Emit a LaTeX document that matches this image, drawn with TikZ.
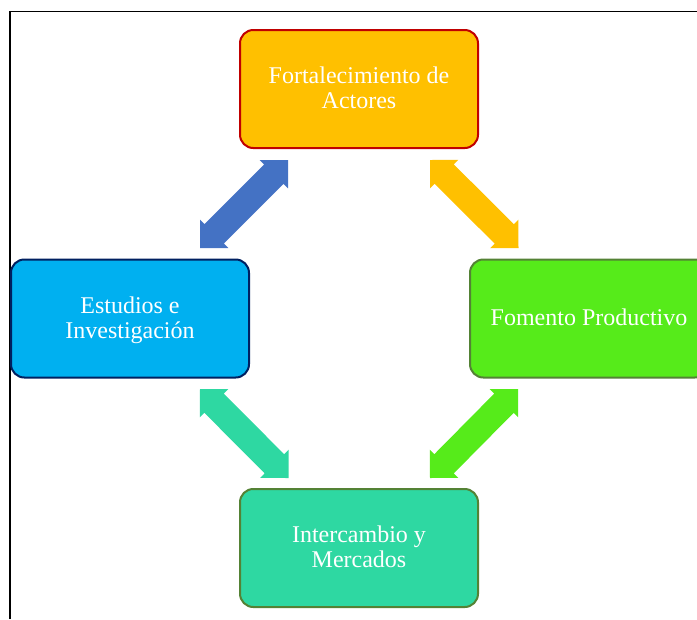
\documentclass[tikz,border=0pt]{standalone}
\usepackage{fontspec}
\setmainfont{Liberation Serif}
\usetikzlibrary{calc}
\definecolor{topfill}{HTML}{FFC000}
\definecolor{topdraw}{HTML}{C00000}
\definecolor{leftfill}{HTML}{00B0F0}
\definecolor{leftdraw}{HTML}{002060}
\definecolor{rightfill}{HTML}{56EB1A}
\definecolor{greendraw}{HTML}{548235}
\definecolor{bottomfill}{HTML}{2ED8A2}
\definecolor{bluearrow}{HTML}{4472C4}
\newcommand{\firststrut}{\rule{0pt}{15pt}}
\newcommand{\laststrut}{\rule[-3.8pt]{0pt}{3.8pt}}
% block double arrow: #1 colour, #2 one tip, #3 other tip
\newcommand{\blockarr}[3]{%
  \fill[#1] (#2)
    -- ($(#2)!15pt!(#3)!15pt!90:(#3)$)
    -- ($(#2)!15pt!(#3)!10.25pt!90:(#3)$)
    -- ($(#3)!15pt!(#2)!10.25pt!-90:(#2)$)
    -- ($(#3)!15pt!(#2)!15pt!-90:(#2)$)
    -- (#3)
    -- ($(#3)!15pt!(#2)!15pt!90:(#2)$)
    -- ($(#3)!15pt!(#2)!10.25pt!90:(#2)$)
    -- ($(#2)!15pt!(#3)!10.25pt!-90:(#3)$)
    -- ($(#2)!15pt!(#3)!15pt!-90:(#3)$)
    -- cycle;}
\begin{document}
\begin{tikzpicture}[x=0.75pt,y=-0.75pt,
  box/.style={rectangle, rounded corners=10pt, minimum width=178.5pt, minimum height=88.5pt,
    line width=1.5pt, text=white, align=center, inner sep=0pt,
    font=\fontsize{18}{18.75}\selectfont},
  frameline/.style={line width=0.9pt, black}]
\useasboundingbox (0,0) rectangle (697,619);
\clip (0,0) rectangle (697,619);
\coordinate (f1) at (10,619);
\coordinate (f2) at (10,11.5);
\coordinate (f3) at (697,11.5);
\draw[frameline] (f1) -- (f2) -- (f3);
\node[box, fill=topfill, draw=topdraw] (top) at (359,89) {\firststrut Fortalecimiento de\\Actores\laststrut};
\node[box, fill=leftfill, draw=leftdraw] (left) at (130,318.5) {\firststrut Estudios e\\Investigación\laststrut};
\node[box, fill=rightfill, draw=greendraw] (right) at (589,318.5) {\firststrut Fomento Productivo\laststrut};
\node[box, fill=bottomfill, draw=greendraw] (bottom) at (359,548) {\firststrut Intercambio y\\Mercados\laststrut};
\coordinate (b1) at (200,248);
\coordinate (b2) at (288,160);
\coordinate (y1) at (430,160);
\coordinate (y2) at (518.5,248);
\coordinate (t1) at (200,389);
\coordinate (t2) at (288.5,478);
\coordinate (g1) at (518,389);
\coordinate (g2) at (430,478);
\blockarr{bluearrow}{b1}{b2}
\blockarr{topfill}{y1}{y2}
\blockarr{bottomfill}{t1}{t2}
\blockarr{rightfill}{g1}{g2}
\end{tikzpicture}
\end{document}
